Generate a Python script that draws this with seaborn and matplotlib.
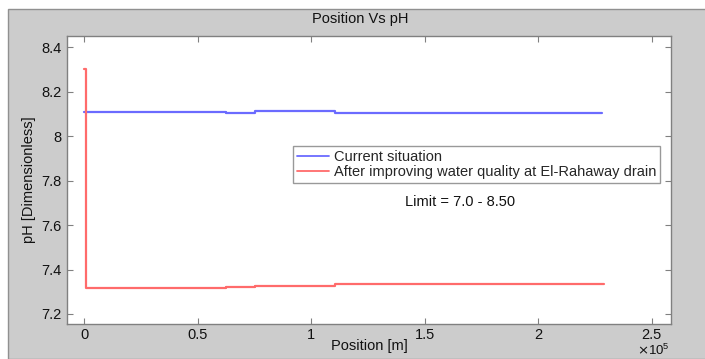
"""
Position vs pH along the drain.
"""

import matplotlib
matplotlib.use("Agg")
import matplotlib.pyplot as plt
import seaborn as sns
import pandas as pd
from matplotlib.patches import Rectangle
from matplotlib.ticker import FuncFormatter, MultipleLocator

# step vertices (steps-post): position in metres, pH
current_position = [0, 62600, 75300, 110600, 228000]
current_ph = [8.110, 8.102, 8.113, 8.102, 8.102]

improved_position = [0, 800, 62600, 75300, 110600, 229000]
improved_ph = [8.300, 7.315, 7.320, 7.328, 7.333, 7.333]

series_labels = [
    "Current situation",
    "After improving water quality at El-Rahaway drain",
]

sns.set_theme(style="white")
plt.rcParams["font.family"] = ["Liberation Sans", "DejaVu Sans"]

GREY = "#cccccc"
EDGE = "#808080"

fig = plt.figure(figsize=(7.05, 3.59), dpi=100, facecolor="white")

# grey panel behind the axes
fig.patches.append(
    Rectangle(
        (8 / 705, 0), 1, 1 - 9 / 359,
        transform=fig.transFigure,
        facecolor=GREY,
        edgecolor="#909090",
        linewidth=1.0,
        zorder=-10
    )
)

ax = fig.add_axes([67 / 705, 35 / 359, 604 / 705, 288 / 359])
ax.set_zorder(5)
ax.set_facecolor("white")

current = pd.DataFrame({"Position": current_position, "pH": current_ph})
improved = pd.DataFrame({"Position": improved_position, "pH": improved_ph})

sns.lineplot(
    data=current, x="Position", y="pH",
    estimator=None, sort=False,
    drawstyle="steps-post",
    color="#6b6bff", linewidth=1.6,
    label=series_labels[0], ax=ax
)
sns.lineplot(
    data=improved, x="Position", y="pH",
    estimator=None, sort=False,
    drawstyle="steps-post",
    color="#ff6b6b", linewidth=1.6,
    label=series_labels[1], ax=ax
)

ax.set_xlim(-7500, 258500)
ax.set_ylim(7.155, 8.45)

ax.xaxis.set_major_locator(MultipleLocator(50000))
ax.yaxis.set_major_locator(MultipleLocator(0.2))
ax.xaxis.set_major_formatter(FuncFormatter(lambda v, p: f"{v / 1e5:g}"))
ax.yaxis.set_major_formatter(FuncFormatter(lambda v, p: f"{v:g}"))

ax.tick_params(
    direction="in", length=4, width=0.8, color=EDGE,
    top=True, right=True, bottom=True, left=True,
    labelsize=10.5, labelcolor="#111111", pad=4
)
ax.tick_params(axis="x", pad=3)
for spine in ax.spines.values():
    spine.set_color(EDGE)
    spine.set_linewidth(1.0)

ax.set_xlabel("Position [m]", fontsize=10.5, color="#111111", labelpad=-2)
ax.set_ylabel("pH [Dimensionless]", fontsize=10.5, color="#111111", labelpad=4)

fig.text(360 / 705, 1 - 19 / 359, "Position Vs pH",
         ha="center", va="center", fontsize=10.5, color="#111111", zorder=6)
fig.text(653 / 705, 1 - 350 / 359, r"$\times\mathregular{10^{5}}$",
         ha="center", va="center", fontsize=9.5, color="#111111", zorder=6)

ax.text(165600, 7.703, "Limit = 7.0 - 8.50",
        ha="center", va="center", fontsize=10.5, color="#111111")

leg = ax.legend(
    loc="upper left",
    bbox_to_anchor=(0.374, 0.618),
    borderaxespad=0,
    fontsize=10.5,
    frameon=True,
    fancybox=False,
    handlelength=2.2,
    handletextpad=0.4,
    borderpad=0.25,
    labelspacing=0.1
)
leg.get_frame().set_edgecolor(EDGE)
leg.get_frame().set_linewidth(1.0)
for line in leg.get_lines():
    line.set_linewidth(1.3)

fig.savefig("out.png", dpi=100, facecolor=fig.get_facecolor())
plt.close(fig)
